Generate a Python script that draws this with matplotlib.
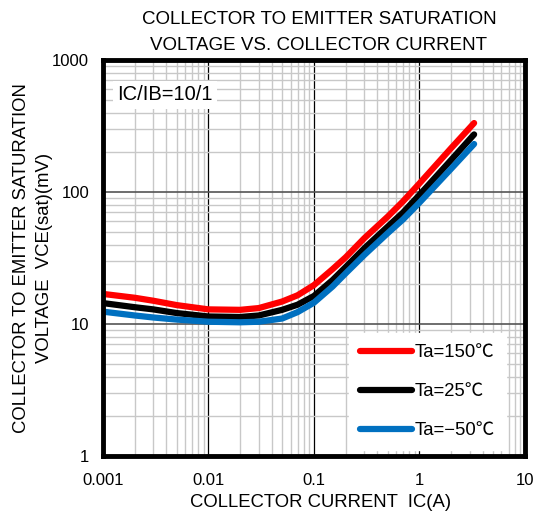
import matplotlib
matplotlib.use("Agg")
import matplotlib.pyplot as plt
from matplotlib.ticker import LogLocator, NullFormatter, FixedLocator, FixedFormatter

plt.rcParams["font.family"] = ["Liberation Sans", "Noto Sans CJK JP", "DejaVu Sans"]

IC = [0.001, 0.002, 0.003, 0.005, 0.01, 0.02, 0.03, 0.05, 0.07, 0.1, 0.15, 0.2, 0.3, 0.5, 0.7, 1, 2, 3.3]
V150 = [16.9, 15.8, 15.0, 13.9, 12.9, 12.8, 13.2, 14.8, 16.5, 19.7, 26, 32, 44.6, 65, 85, 116, 215, 333]
V25 = [14.4, 13.4, 12.9, 12.1, 11.4, 11.3, 11.6, 12.8, 14.0, 16.3, 21.5, 27, 37.4, 54.6, 70, 95, 175, 273]
VM50 = [12.4, 11.6, 11.2, 10.8, 10.4, 10.3, 10.4, 11.0, 12.3, 14.5, 19.2, 24.2, 33.3, 48.7, 62, 83, 150, 231]
LABELS = ["Ta=150℃", "Ta=25℃", "Ta=−50℃"]
COLORS = ["#ff0000", "#000000", "#0070c0"]
XTICKS = [0.001, 0.01, 0.1, 1, 10]
XTICKLABELS = ["0.001", "0.01", "0.1", "1", "10"]
YTICKS = [1, 10, 100, 1000]
YTICKLABELS = ["1", "10", "100", "1000"]

fig = plt.figure(figsize=(5.4, 5.15), dpi=100)
ax = fig.add_axes([0.1907, 0.1146, 0.7813, 0.7689])
ax.set_xscale("log")
ax.set_yscale("log")
ax.set_xlim(0.001, 10)
ax.set_ylim(1, 1000)

ax.xaxis.set_major_locator(FixedLocator(XTICKS))
ax.xaxis.set_major_formatter(FixedFormatter(XTICKLABELS))
ax.yaxis.set_major_locator(FixedLocator(YTICKS))
ax.yaxis.set_major_formatter(FixedFormatter(YTICKLABELS))
ax.xaxis.set_minor_locator(LogLocator(base=10, subs=range(2, 10)))
ax.yaxis.set_minor_locator(LogLocator(base=10, subs=range(2, 10)))
ax.xaxis.set_minor_formatter(NullFormatter())
ax.yaxis.set_minor_formatter(NullFormatter())
ax.tick_params(which="both", length=0, labelsize=12)
ax.tick_params(axis="x", pad=12)
ax.tick_params(axis="y", pad=10)

ax.grid(which="minor", color="#c8c8c8", lw=1.0)
ax.grid(which="major", axis="x", color="#000000", lw=0.9)
ax.grid(which="major", axis="y", color="#555555", lw=1.2)
ax.set_axisbelow(True)
for s in ax.spines.values():
    s.set_linewidth(3.5)

for v, lab, c in zip([V150, V25, VM50], LABELS, COLORS):
    ax.plot(IC, v, color=c, lw=4.5, label=lab, solid_capstyle="round", solid_joinstyle="round")

leg = ax.legend(loc="lower right", bbox_to_anchor=(0.968, 0.0), frameon=True, fontsize=13.3,
                handlelength=2.8, handletextpad=0.15, labelspacing=1.2, borderpad=0.6,
                fancybox=False, borderaxespad=0.3)
leg.get_frame().set_edgecolor("white")
leg.get_frame().set_facecolor("white")
leg.get_frame().set_alpha(1)

ax.text(0.033, 0.912, "IC/IB=10/1", transform=ax.transAxes, fontsize=14.5, va="center", ha="left",
        bbox=dict(facecolor="white", edgecolor="none", pad=3))

ax.set_title("COLLECTOR TO EMITTER SATURATION\nVOLTAGE VS. COLLECTOR CURRENT", fontsize=13.5,
             linespacing=1.75, pad=7, x=0.512)
ax.set_xlabel("COLLECTOR CURRENT  IC(A)", fontsize=13.3, labelpad=2)
ax.xaxis.set_label_coords(0.515, -0.095)
ax.set_ylabel("COLLECTOR TO EMITTER SATURATION\nVOLTAGE  VCE(sat)(mV)", fontsize=13.3,
              linespacing=1.5, labelpad=-1)

fig.savefig("out.png", dpi=100)
